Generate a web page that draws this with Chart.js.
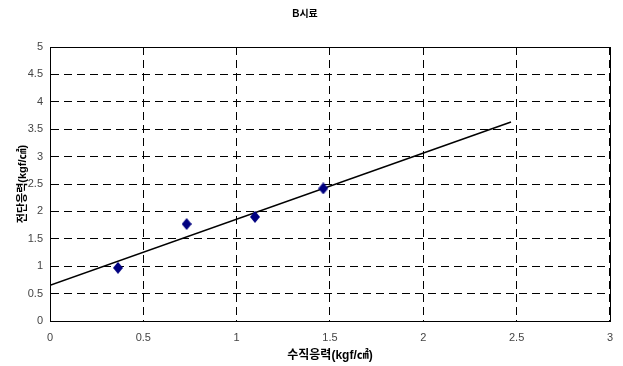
<!DOCTYPE html>
<html>
<head>
<meta charset="utf-8">
<script src="https://cdn.jsdelivr.net/npm/chart.js@4"></script>
<style>
html,body{margin:0;padding:0;background:#fff;}
#wrap{width:623px;height:366px;position:relative;}
</style>
</head>
<body>
<div id="wrap"><canvas id="c" width="623" height="366"></canvas></div>
<script>
// Data
const normalStress = [0.364, 0.732, 1.098, 1.464];
const shearStress = [0.97, 1.77, 1.90, 2.42];
const trendX = [0, 2.47];
const trendY = [0.65, 3.63];
const xTicks = [0, 0.5, 1, 1.5, 2, 2.5, 3];
const yTicks = [0, 0.5, 1, 1.5, 2, 2.5, 3, 3.5, 4, 4.5, 5];
const titleText = 'B시료';
const xTitle = '수직응력(kgf/㎠)';
const yTitle = '전단응력(kgf/㎠)';

const FONT = '"Liberation Sans", Arial, "Noto Sans CJK KR", sans-serif';

// diamond marker
const mk = document.createElement('canvas');
mk.width = 10; mk.height = 12;
(function(){
  const g = mk.getContext('2d');
  g.fillStyle = '#000080';
  g.beginPath();
  g.moveTo(5, 0); g.lineTo(10, 6); g.lineTo(5, 12); g.lineTo(0, 6);
  g.closePath(); g.fill();
})();

const boxPlugin = {
  id: 'box',
  afterDraw(chart) {
    const {ctx, chartArea: a} = chart;
    ctx.save();
    ctx.strokeStyle = '#000';
    ctx.lineWidth = 1;
    ctx.setLineDash([]);
    ctx.strokeRect(Math.round(a.left) + 0.5, Math.round(a.top) + 0.5,
      Math.round(a.right - a.left), Math.round(a.bottom - a.top));
    ctx.restore();
  }
};

new Chart(document.getElementById('c'), {
  type: 'scatter',
  data: {
    datasets: [
      {
        label: 'data',
        data: normalStress.map((x, i) => ({x, y: shearStress[i]})),
        pointStyle: mk,
        pointRadius: 5,
        backgroundColor: '#000080',
        borderColor: '#000080'
      },
      {
        label: 'trend',
        data: trendX.map((x, i) => ({x, y: trendY[i]})),
        showLine: true,
        pointRadius: 0,
        borderColor: '#000',
        borderWidth: 1.5,
        fill: false
      }
    ]
  },
  options: {
    responsive: false,
    animation: false,
    devicePixelRatio: 1,
    layout: {padding: {left: 0, right: 13, top: 0, bottom: 0}},
    plugins: {
      legend: {display: false},
      tooltip: {enabled: false},
      title: {
        display: true,
        text: titleText,
        color: '#000',
        font: {family: FONT, size: 10, weight: 'bold'},
        padding: {top: 8, bottom: 27}
      }
    },
    scales: {
      x: {
        type: 'linear',
        min: 0, max: 3,
        afterBuildTicks(s) { s.ticks = xTicks.map(v => ({value: v})); },
        afterFit(s) { s.height = 45; },
        ticks: {color: '#444', font: {family: FONT, size: 11}, padding: 10,
          callback: v => String(v)},
        grid: {color: '#000', lineWidth: 1, drawTicks: false},
        border: {display: true, color: '#000', width: 1, dash: [8, 5]},
        title: {display: true, text: xTitle, color: '#000',
          font: {family: FONT, size: 12, weight: 'bold'}, padding: {top: 0, bottom: 3}}
      },
      y: {
        type: 'linear',
        min: 0, max: 5,
        afterBuildTicks(s) { s.ticks = yTicks.map(v => ({value: v})); },
        afterFit(s) { s.width = 50; },
        ticks: {color: '#444', font: {family: FONT, size: 11}, padding: 7,
          callback: v => String(v)},
        grid: {color: '#000', lineWidth: 1, drawTicks: false},
        border: {display: true, color: '#000', width: 1, dash: [8, 5]},
        title: {display: true, text: yTitle, color: '#000',
          font: {family: FONT, size: 11, weight: 'bold'}, padding: {top: 16, bottom: 0}}
      }
    }
  },
  plugins: [boxPlugin]
});
</script>
</body>
</html>
